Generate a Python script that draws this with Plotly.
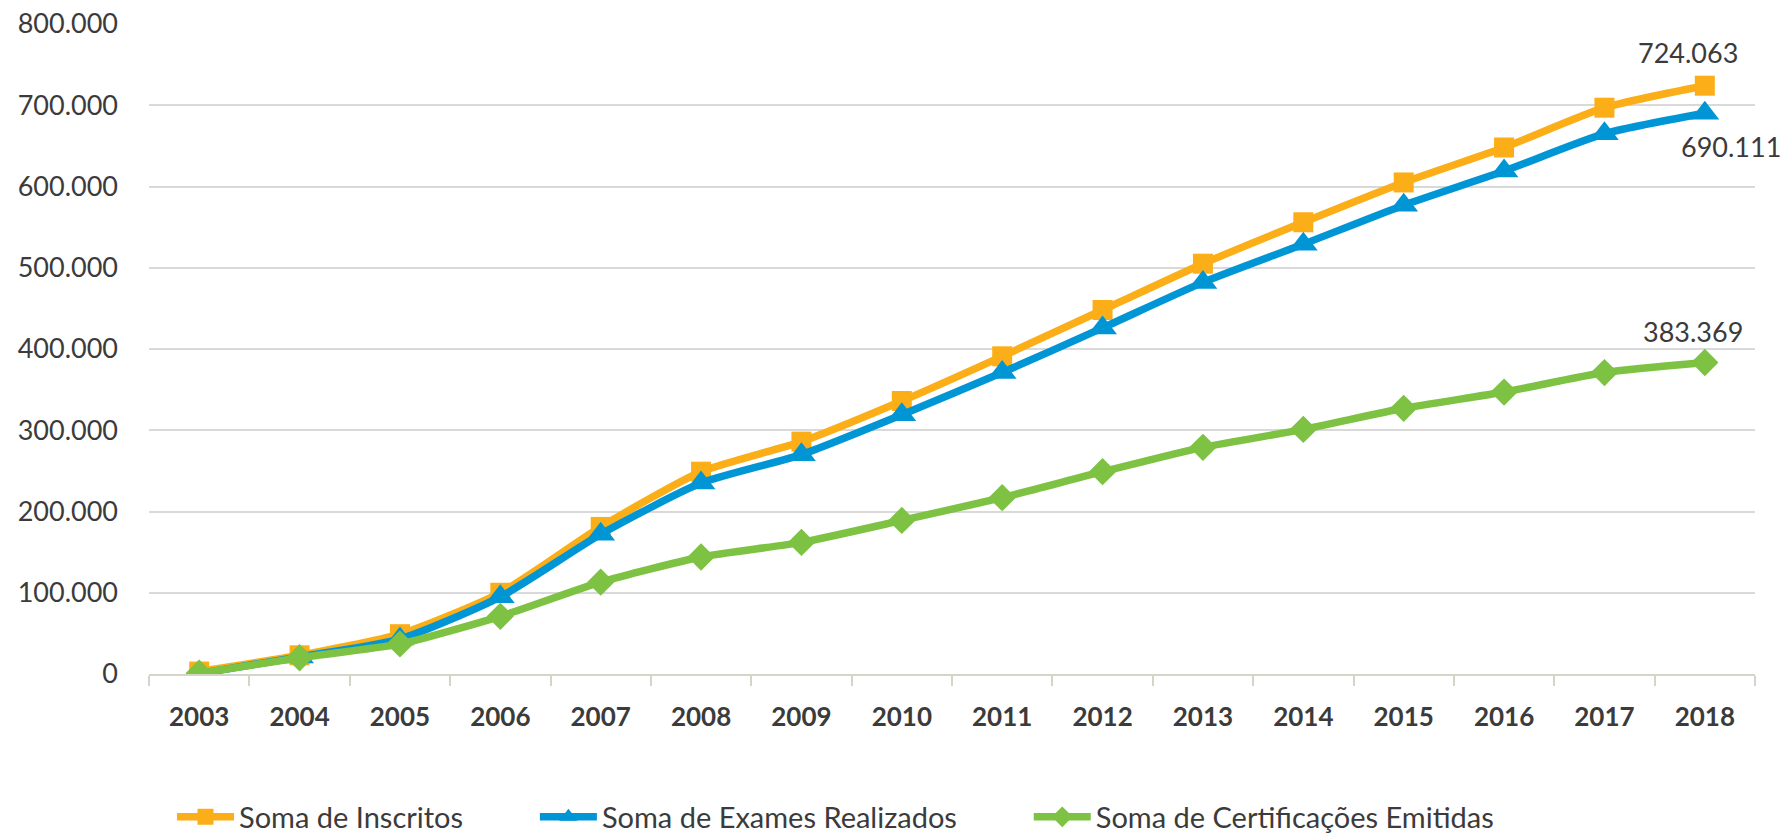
import plotly.graph_objects as go

years = ["2003", "2004", "2005", "2006", "2007", "2008", "2009", "2010",
         "2011", "2012", "2013", "2014", "2015", "2016", "2017", "2018"]
inscritos = [3000, 23000, 49000, 100000, 181000, 249000, 286000, 336000,
             391000, 448000, 505000, 556000, 605000, 648000, 697000, 724063]
exames = [500, 21000, 43000, 95000, 172000, 235000, 270000, 319000,
          371000, 426000, 482000, 529000, 577000, 619000, 665000, 690111]
certificacoes = [1000, 20000, 37000, 71000, 113000, 144000, 162000, 189000,
                 217000, 249000, 279000, 301000, 327000, 347000, 371000, 383369]

names = ["Soma de Inscritos", "Soma de Exames Realizados", "Soma de Certificações Emitidas"]
colors = ["#FBAE17", "#0096D6", "#7DC242"]
symbols = ["square", "triangle-up", "diamond"]
sizes = [20, 25, 21]
series = [inscritos, exames, certificacoes]

FONT = "Lato, sans-serif"
TXT = "#3b3b3b"
pads = ["\u00a0" * 9, "\u00a0" * 9, ""]

fig = go.Figure()
for nm, col, sym, sz, vals, pad in zip(names, colors, symbols, sizes, series, pads):
    fig.add_trace(go.Scatter(
        x=years, y=vals, name=nm + pad, mode="lines+markers",
        line=dict(color=col, width=7.5, shape="spline", smoothing=0.6),
        marker=dict(color=col, symbol=sym, size=sz, line=dict(width=0)),
    ))

def fmt(v):
    return f"{v:,}".replace(",", ".")

last = len(years) - 1
label_shifts = [(-17, 33), (26, -33), (-12, 31)]
for vals, (dx, dy) in zip(series, label_shifts):
    fig.add_annotation(x=last, y=vals[-1], xref="x", yref="y",
                       text=fmt(vals[-1]), showarrow=False,
                       xshift=dx, yshift=dy,
                       font=dict(family=FONT, size=27, color=TXT))

fig.update_layout(
    width=1789, height=835,
    margin=dict(l=149, r=34, t=24, b=161, autoexpand=False),
    paper_bgcolor="white", plot_bgcolor="white",
    separators=",.",
    font=dict(family=FONT, color=TXT),
    legend=dict(orientation="h", xref="container", yref="container",
                yanchor="middle", y=1 - 817 / 835,
                xanchor="left", x=172 / 1789, itemwidth=57,
                font=dict(family=FONT, size=29, color=TXT),
                bgcolor="rgba(0,0,0,0)"),
    xaxis=dict(
        type="category", range=[-0.5, last + 0.5], automargin=False,
        tickson="boundaries", ticks="outside", ticklen=10,
        tickcolor="#d4d4c8", tickwidth=1.5,
        showline=True, linecolor="#d4d4c8", linewidth=2,
        showgrid=False, zeroline=False,
        tickfont=dict(family=FONT, size=26, color=TXT, weight="bold"),
        tickangle=0, ticklabelstandoff=19,
    ),
    yaxis=dict(
        range=[0, 800000], tick0=0, dtick=100000, tickformat=",d",
        automargin=False,
        showgrid=True, gridcolor="#d9d9d9", gridwidth=1.5,
        zeroline=False, showline=False, ticks="",
        tickfont=dict(family=FONT, size=27, color=TXT),
        ticklabelstandoff=30,
    ),
)

fig.write_html("out.html", config={"displayModeBar": False},
               post_script="document.body.style.margin='0';document.body.style.overflow='hidden';")
